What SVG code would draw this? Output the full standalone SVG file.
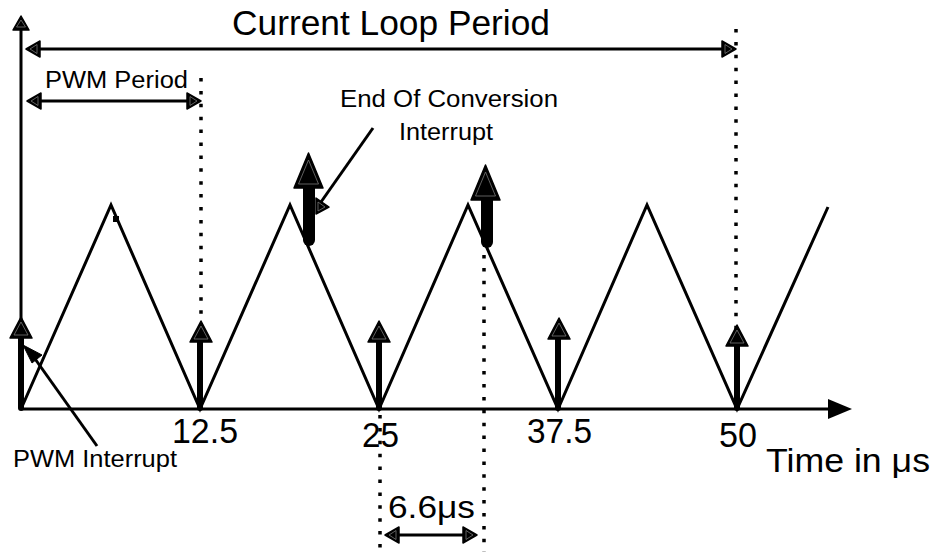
<svg xmlns="http://www.w3.org/2000/svg" xmlns:xlink="http://www.w3.org/1999/xlink" width="933" height="552" viewBox="0 0 933 552">
<style>
  .ln { stroke:#000; stroke-width:3; fill:none; }
  .dot { stroke:#000; stroke-width:3.5; fill:none; stroke-dasharray:3.5 9.4; }
  .shaft { stroke:#000; fill:none; stroke-linecap:round; }
  .t { font-family:"Liberation Sans", Arial, sans-serif; fill:#000; }
  .head { fill:#000; stroke:#000; stroke-width:1.5; stroke-linejoin:round; }
  .inner { fill:none; stroke:#777; stroke-width:0.8; }
</style>
<defs>
  <g id="hs">
    <path class="head" d="M0,0 L11,21 L-11,21 Z"/>
    <path class="inner" d="M0,5 L7,18 L-7,18 Z"/>
  </g>
  <g id="hl">
    <path class="head" d="M0,0 L14.5,35 L-14.5,35 Z"/>
    <path class="inner" d="M0,7 L10,31 L-10,31 Z"/>
  </g>
  <g id="hh">
    <path class="head" d="M0,0 L14,-8 L14,8 Z"/>
    <path class="inner" d="M4,0 L11,-4.5 L11,4.5 Z"/>
  </g>
</defs>

<g id="dotted-guides">
  <line class="dot" x1="201" y1="78" x2="201" y2="409"/>
  <line class="dot" x1="736" y1="29" x2="736" y2="409"/>
  <line class="dot" x1="484" y1="255" x2="484" y2="552"/>
  <line class="dot" x1="380" y1="415" x2="380" y2="552"/>
</g>

<g id="axes">
  <line class="ln" x1="21" y1="409" x2="21" y2="26"/>
  <use xlink:href="#hh" transform="translate(21,16) rotate(90)"/>
  <line class="ln" x1="21" y1="409" x2="832" y2="409"/>
  <path d="M852,409 L828,399 L828,419 Z" fill="#000"/>
</g>

<g id="triangle-wave">
  <polyline class="ln" stroke-linejoin="miter" points="21,409 111,205 200,409 290,205 379,409 468,205 558,409 647,205 737,409 828,207"/>
  <rect x="113" y="216" width="6" height="6" fill="#000"/>
</g>

<g id="connectors">
  <line class="ln" x1="36" y1="49" x2="726" y2="49"/>
  <use xlink:href="#hh" transform="translate(26,49)"/>
  <use xlink:href="#hh" transform="translate(736,49) rotate(180)"/>
  <line class="ln" x1="37" y1="101" x2="191" y2="101"/>
  <use xlink:href="#hh" transform="translate(27,101)"/>
  <use xlink:href="#hh" transform="translate(201,101) rotate(180)"/>
  <line class="ln" x1="395" y1="535" x2="467" y2="535"/>
  <use xlink:href="#hh" transform="translate(385,535)"/>
  <use xlink:href="#hh" transform="translate(477,535) rotate(180)"/>
  <line class="ln" x1="373" y1="128" x2="321" y2="202"/>
  <path class="head" d="M316,198 L329,207 L316,214 Z"/>
  <path class="inner" d="M318,202 L325,207 L318,211 Z"/>
  <line class="ln" x1="97" y1="446" x2="33" y2="356"/>
  <path d="M23,345 L42,355 L32,363 Z" fill="#000" stroke="#000" stroke-width="1" stroke-linejoin="round"/>
</g>

<g id="pwm-interrupt-arrows">
  <line class="shaft" stroke-width="6" x1="21" y1="408" x2="21" y2="336"/>
  <use xlink:href="#hs" transform="translate(21,317)"/>
  <line class="shaft" stroke-width="6" x1="200" y1="408" x2="200" y2="340"/>
  <use xlink:href="#hs" transform="translate(201,321)"/>
  <line class="shaft" stroke-width="6" x1="379" y1="408" x2="379" y2="340"/>
  <use xlink:href="#hs" transform="translate(379,321)"/>
  <line class="shaft" stroke-width="6" x1="558" y1="408" x2="558" y2="338"/>
  <use xlink:href="#hs" transform="translate(559,318)"/>
  <line class="shaft" stroke-width="6" x1="737" y1="408" x2="737" y2="344"/>
  <use xlink:href="#hs" transform="translate(737,325)"/>
</g>

<g id="eoc-arrows">
  <path d="M303,187 L315,187 L315,240 A6,6 0 0 1 303,240 Z" fill="#000"/>
  <use xlink:href="#hl" transform="translate(308.5,153)"/>
  <path d="M481,199 L493,199 L493,242 A6,6 0 0 1 481,242 Z" fill="#000"/>
  <use xlink:href="#hl" transform="translate(485.5,165)"/>
</g>

<g id="labels">
  <text class="t" x="232" y="35" font-size="35" textLength="318" lengthAdjust="spacingAndGlyphs">Current Loop Period</text>
  <text class="t" x="45" y="88" font-size="23" textLength="143" lengthAdjust="spacingAndGlyphs">PWM Period</text>
  <text class="t" x="340" y="107" font-size="23" textLength="218" lengthAdjust="spacingAndGlyphs">End Of Conversion</text>
  <text class="t" x="399" y="140" font-size="23" textLength="94" lengthAdjust="spacingAndGlyphs">Interrupt</text>
  <text class="t" x="13" y="467" font-size="23" textLength="164" lengthAdjust="spacingAndGlyphs">PWM Interrupt</text>
  <text class="t" x="172" y="443" font-size="35" textLength="66" lengthAdjust="spacingAndGlyphs">12.5</text>
  <text class="t" x="362" y="447" font-size="35" textLength="37" lengthAdjust="spacingAndGlyphs">25</text>
  <text class="t" x="527" y="443" font-size="35" textLength="65" lengthAdjust="spacingAndGlyphs">37.5</text>
  <text class="t" x="719" y="447" font-size="35" textLength="38" lengthAdjust="spacingAndGlyphs">50</text>
  <text class="t" x="766" y="472" font-size="34" textLength="164" lengthAdjust="spacingAndGlyphs">Time in μs</text>
  <text class="t" x="388" y="518" font-size="31" textLength="87" lengthAdjust="spacingAndGlyphs">6.6μs</text>
</g>
</svg>
